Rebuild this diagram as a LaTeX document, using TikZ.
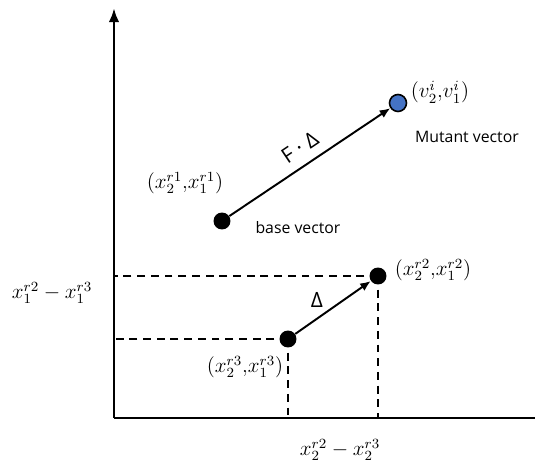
\documentclass[tikz,border=0pt]{standalone}
\usepackage{amsmath, amssymb}
\usepackage{fontspec}
\usetikzlibrary{arrows.meta}
\newfontfamily\labelfont{Open Sans}
\definecolor{mutblue}{RGB}{68,114,196}

\begin{document}
\begin{tikzpicture}[x=0.02cm,y=-0.02cm,
    dot/.style={circle,fill=black,inner sep=0pt,minimum size=0.34cm},
    guide/.style={line width=1.1pt,dash pattern=on 4.5pt off 3.3pt},
    vec/.style={line width=1.1pt,-{Latex[length=6pt,width=5pt]}},
    lbl/.style={font=\large}]
        \useasboundingbox (0,0) rectangle (535,466);
        % axes
        \coordinate (O) at (114,418);
        \coordinate (ytop) at (114,8);
        \coordinate (xend) at (535,418);
        \draw[line width=1.6pt,-{Latex[length=8pt,width=6pt]}] (O) -- (ytop);
        \draw[line width=1.6pt] (O) -- (xend);
        % points
        \node[dot] (base) at (222,221) {};
        \node[dot,fill=mutblue,draw=black,line width=0.9pt] (mut) at (398,103) {};
        \node[dot] (pr3) at (288,339) {};
        \node[dot] (pr2) at (378,276) {};
        % guides
        \draw[guide] (pr2.center) -- (pr2 -| O);
        \draw[guide] (pr2.center) -- (pr2 |- O);
        \draw[guide] (pr3.center) -- (pr3 -| O);
        \draw[guide] (pr3.center) -- (pr3 |- O);
        % vectors
        \draw[vec] (base) -- (mut)
          node[midway,above=2pt,sloped,font=\labelfont\large] (fd) {F · Δ};
        \draw[vec] (pr3) -- (pr2);
        \node[font=\labelfont\large] (dlt) at (317,300) {Δ};
        % labels
        \node[lbl] (mutpt) at (440,92) {$(v_2^i{,}v_1^i)$};
        \node[font=\labelfont\small] (mutname) at (467,137) {Mutant vector};
        \node[lbl] (basept) at (185,183) {$(x_2^{r1}{,}x_1^{r1})$};
        \node[font=\labelfont\small] (basename) at (298,228) {base vector};
        \node[lbl] (r2pt) at (433,270) {$(x_2^{r2}{,}x_1^{r2})$};
        \node[lbl] (r3pt) at (245,367) {$(x_2^{r3}{,}x_1^{r3})$};
        \node[lbl] (ydiff) at (52,293) {$x_1^{r2}-x_1^{r3}$};
        \node[lbl] (xdiff) at (340,450) {$x_2^{r2}-x_2^{r3}$};
      \end{tikzpicture}
\end{document}
